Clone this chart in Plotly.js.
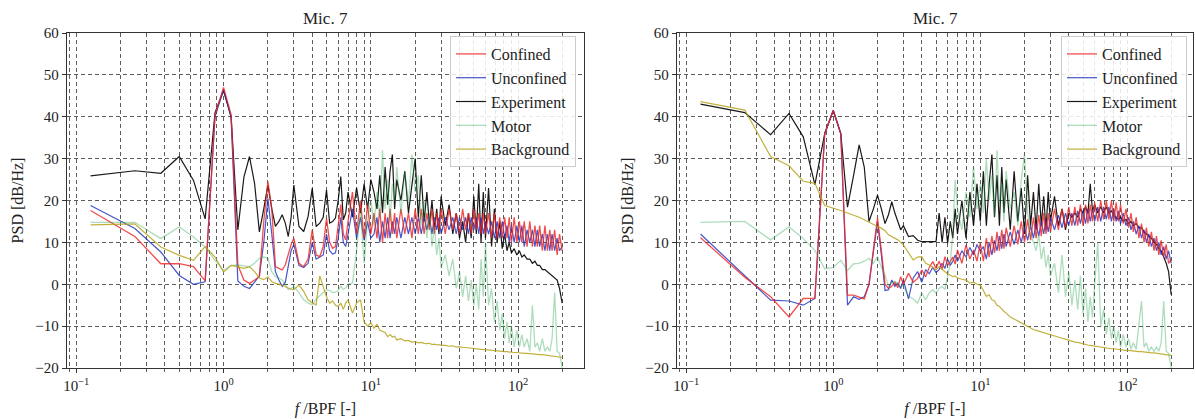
<!DOCTYPE html>
<html><head><meta charset="utf-8">
<script src="https://cdn.plot.ly/plotly-3.0.1.min.js"></script>
<style>html,body{margin:0;padding:0;background:#fff}#chart{width:1196px;height:419px}</style>
</head><body><div id="chart"></div>
<script>
// Frequency (f/BPF), shared by every series
const freq = [
  0.125,0.25,0.375,0.5,0.625,0.75,0.875,1,1.125,1.25,1.375,1.5,1.625,1.75,1.875,2,2.125,2.25,2.375,2.5,2.625,2.75,2.875,3,
  3.25,3.5,3.75,4,4.25,4.5,4.75,5,5.25,5.5,5.75,6,6.25,6.5,6.75,7,7.5,8,8.5,9,9.5,10,
  10.5,11,11.5,12,12.5,13,13.5,14,14.5,15, 16,17,18,19,20,21,22,23,24,25, 26,27,28,29,30,32,34,36,38,40,
  42,44,46,48,50,52,54,56,58,60, 63,66,69,72,75,78,81,84,87,90, 94,98,102,106,110,115,120,125,130,135,
  140,146,152,158,164,170,177,184,191,199
];

// ---- Left panel (Mic. 7) ----
const confinedL = [
  17.6,11.4,4.9,4.9,4.2,0.8,40.5,47,40.5,4.6,1.0,0.2,1.0,1.8,15,24.5,18,4.2,3.8,3.4,4.6,7,9.5,11,
  5.0,4.2,6,13,7,6.6,9,15.8,10,8.6,9,14,19,12,10.6,15,22,12,20,11,19,12,
  17,11,18,10,17,11,18,12,17,11, 18,12,17,11,18,12,18,12,17,13, 18,12,17,13,18,12,18,13,17,12,
  18,13,17,12,18,13,17,12,17,12, 17,11,17,11,16,11,16,11,16,10, 16,10,15,10,15,9,15,9,14,9,
  14,8,14,8,13,8,13,7,12,8
];
const unconfinedL = [
  18.8,13.3,7.7,2.1,0,0.6,40,46.5,40,0.8,-0.5,-1.0,0.5,2.0,10,20.5,12,3,1,-0.5,0.5,4,8,9.5,
  4.5,4.0,5,10,6,6.5,7,12,8,7.2,7.5,11,16,10,9,12,18,11,16,10.5,15,11,
  12,16,10,15,11,16,11,15,12,16, 11,16,12,16,12,16,12,16,13,16, 12,16,13,16,12,16,13,16,12,16,
  13,16,12,16,13,16,12,16,12,15, 12,15,11,15,11,15,11,14,10,14, 10,14,10,14,9,13,10,13,9,13,
  9,12,8,12,8,12,8,11,8,9
];
const experimentL = [
  25.9,27.1,26.5,30.5,24.8,15.6,41,46.2,40,13,25.6,30.5,24,12.5,18,23.7,18,13.8,15,16.6,14.6,11.4,16,23.7,
  13.8,12.6,16.2,22.9,13.8,14.6,16,22.5,14.6,15,15.8,20,25.7,15.4,17,22,16,23,17,24,18,25,
  22,18,26,17,28,19,27,31,18,25, 20,27,17,24,30,16,26,15,22,14, 20,13,18,12,21,14,19,12,17,11,
  15,10,17,11,21,12,24,10,22,11, 23,9,18,10,15,8.5,12,8,10,7.5, 8.5,7,8,6.5,7,6,6,5,5.5,4.5,
  4.5,3.5,3.5,3,2.5,2,1.5,1,-1,-4.5
];
const motorL = [
  14.8,14.8,10.9,13.7,11.3,8.9,5.7,3.3,4.5,4.6,4.4,4.2,5,6.2,6.5,6.2,3,1.8,1.5,1.0,0,-1.3,-1,-0.5,
  -2,-3.7,-4.5,-4.9,-3.5,-2.8,-2,-1.3,-1.5,-2,-1.9,-1.5,-0.5,-1.2,-0.9,0,0.3,8,18,5,15,20,
  14,22,16,32,18,25,15,24,20,28, 17,27,19,31,22,26,14,20,11,17, 9,14,7,11,4,7,2,6,-1,3,
  -3,2,-4,1,-5,0,-6,6,-3,10, -5,-1,-9,-4,-11,-7,-13,-9,-14,-10, -15,-11,-15,-12,-15,-13,-16,-5,-15,-14,
  -16,-13,-16,-15,-16,-13,-2,-16,-16.5,-20
];
const backgroundL = [
  14.2,14.4,8.9,6.9,5.7,9.0,6.5,2.9,4.5,4.2,3.8,4.2,3.0,1.5,1.1,1.8,0.6,0.2,0,-0.2,-0.6,-1.0,-1.2,-1.3,
  -0.2,-1.7,-3.7,-4.5,-4.9,2.0,-0.5,-3,-4.5,-4,-5,-5.3,-4.5,-6,-4.5,-3.7,-6.9,-4.5,-3.7,-9,-10,-9.2,
  -10.5,-9.6,-11,-11.2,-11.5,-12.5,-12,-12.6,-12.4,-13.3, -13,-13.5,-13.4,-13.8,-13.7,-14,-13.9,-14.1,-14.2,-14.1,
  -14.4,-14.3,-14.5,-14.4,-14.6,-14.6,-14.8,-14.7,-15,-14.9, -15.1,-15.1,-15.2,-15.3,-15.3,-15.4,-15.5,-15.5,-15.6,-15.6,
  -15.7,-15.8,-15.8,-15.9,-16,-16,-16.1,-16.1,-16.2,-16.2, -16.3,-16.3,-16.4,-16.4,-16.5,-16.5,-16.6,-16.6,-16.7,-16.7,
  -16.8,-16.8,-16.9,-16.9,-17,-17,-17.1,-17.2,-17.3,-17.5
];

// ---- Right panel (Mic. 7) ----
const confinedR = [
  11.1,1.7,-3.0,-7.8,-3.4,-3.3,36,41.5,36,-2.6,-2.6,-3,-3.5,0,8,15.8,8,0,-1,-0.5,0.5,-0.8,1.8,0,
  2.6,0.5,1.4,3.4,1.8,4,5.4,3.8,5.5,3.5,6.6,4.5,5.4,6.5,4.8,8.2,5,9.4,6,8.2,5.5,9.8,
  5.5,11,6.5,11.5,7.5,12.5,8,13,8.5,13.5, 9,14,9.5,15,10,15.5,10.5,16,11,16.5, 11.5,17,12,17,12.5,18,13,18,13.5,18.5,
  14,18.5,14,19,14,19,14.5,19,15,19.5, 15,20,15.5,20,15.5,20,15,19.5,15,19, 14.5,18,13.5,17,12.5,16,11,14.5,10,13.5,
  9,12.5,8,11.5,7,10.5,6.5,9.5,5,6
];
const unconfinedR = [
  12,2.1,-3.8,-4.0,-5.0,-3.4,36,41.5,36,-5.0,-3.0,-3.6,-3,0,8,15,7,-1.5,-1.3,1,-0.5,0.3,-1,1,
  -3.5,1.5,3,0.5,3.5,2.5,4,2.8,3.5,5,3.8,6,4.5,5.5,7,5.5,8,6.5,8.8,7,9.5,8,
  9,6,10,7,10.5,8,11.5,8.5,12,9, 12.5,9.5,13,10,13.5,10.5,14,11,14.5,11.5, 15,12,15.5,12.5,16,13,16.5,13.5,17,14,
  17,14,17.5,14.5,17.5,14.5,18,15,18,15, 18.5,15,18.5,15.5,18.5,15,18,15,17.5,14.5, 17,14,16,13,15,12,14,11,13,10,
  12,9,11,8,10,7,9,6,8,5
];
const experimentR = [
  43,41,35.7,40.8,35.2,23.8,36,41.5,36,18.4,26,33.3,28,15,18,21.3,18,14.5,16.6,19.7,17,15,13,14,
  11.4,11.6,10.5,10.2,10.2,10.2,10.2,10.2,17,10,16,9.8,15,11,18,12,20,11,22,14,24,15,
  27,14,24,31,16,26,14,28,17,25, 13,27,15,23,12,26,14,22,13,24, 14,21,13,22,15,21,14,18,13,17,
  16,17,16,18,17,18.5,17,24,17.5,19, 17,18.5,17,18.5,17,17.5,16.5,16,15.5,16, 15,15.5,14.5,15,14,14.5,13.5,13.5,12.5,12,
  11.5,11,10,9.5,8.5,8,6.5,5,3,-2.5
];
const motorR = [
  14.8,15,10.6,13.7,10.9,8.1,3.7,4.0,5.7,3.3,4.9,5,5.5,6.2,5,6.6,4,2.2,-0.5,0.3,0.7,0,-0.5,-0.5,
  -2.9,-3.5,-4.5,-2.1,-3.7,-2,-1.3,-2.1,-1,-0.5,-1.3,2,5,12,25,18,13,22,16,28,18,24,
  17,30,20,26,16,32,19,24,15,27, 18,22,14,25,31,17,12,10,8,12, 6,9,4,7,2,5,-2,7,-3,3,
  -5,1,-6,2,-7,-1,-9,-3,-8,0, 10,-10,-6,-12,-8,-13,-10,-14,-11,-15, -12,-15,-13,-15.5,-14,-15.5,-10,-4,-15,-14,
  -16,-15,-16,-15,-16,-14,-4,-16,-16.5,-20
];
const backgroundR = [
  43.6,41.6,30.5,28.3,24.6,24.1,18.8,18.2,17.6,17,16.5,16,15.4,14.8,14.2,13.8,13.4,12.8,11.8,11.4,11,10.6,10,9.4,
  7.5,5.8,6.5,6.6,5,4.6,4,3.4,4.2,3.5,3,2.5,2.2,1.8,2,1.5,1.2,1,0.3,0.5,0,-0.2,
  -1.5,-2.9,-2.5,-3.7,-4,-5,-5.3,-6,-6.5,-6.9, -7.8,-8.3,-8.8,-9.3,-9.7,-10.1,-10.4,-10.8,-11,-11.2,
  -11.4,-11.6,-11.7,-12,-12,-12.3,-12.6,-12.9,-13.1,-13.4, -13.5,-13.8,-13.9,-14.1,-14.2,-14.3,-14.5,-14.6,-14.7,-14.8,
  -14.9,-15,-15.1,-15.2,-15.3,-15.4,-15.4,-15.5,-15.6,-15.6, -15.7,-15.8,-15.8,-15.9,-16,-16,-16.1,-16.1,-16.2,-16.2,
  -16.3,-16.4,-16.4,-16.5,-16.6,-16.6,-16.7,-16.8,-17,-17
];

const seriesNames = ['Confined','Unconfined','Experiment','Motor','Background'];
const panelTitles = ['Mic. 7','Mic. 7'];
const xTitle = '<i>f</i> /BPF [-]';
const yTitle = 'PSD [dB/Hz]';
const majorTicks = [0.1,1,10,100];
const majorTickText = ['10<sup>\u22121</sup>','10<sup>0</sup>','10<sup>1</sup>','10<sup>2</sup>'];
const minorTicks = [0.09,0.2,0.3,0.4,0.5,0.6,0.7,0.8,0.9,2,3,4,5,6,7,8,9,20,30,40,50,60,70,80,90,200];
const yTicks = [-20,-10,0,10,20,30,40,50,60];

// ---- styling ----
const FONT = 'Liberation Serif, Times New Roman, serif';
const style = {
  Confined:   {color:'rgba(238,38,38,0.82)', width:1.3, rank:1},
  Unconfined: {color:'rgba(30,48,190,0.82)', width:1.2, rank:2},
  Experiment: {color:'rgba(0,0,0,0.9)',      width:1.2, rank:3},
  Motor:      {color:'rgba(40,165,75,0.38)', width:1.3, rank:4},
  Background: {color:'rgba(180,160,20,0.82)',width:1.2, rank:5}
};
const drawOrder = ['Experiment','Unconfined','Confined','Motor','Background'];
const panels = [
  {Confined:confinedL, Unconfined:unconfinedL, Experiment:experimentL, Motor:motorL, Background:backgroundL},
  {Confined:confinedR, Unconfined:unconfinedR, Experiment:experimentR, Motor:motorR, Background:backgroundR}
];

const traces = [];
panels.forEach((p, i) => {
  drawOrder.forEach(name => {
    const s = style[name];
    traces.push({
      type:'scatter', mode:'lines', x:freq, y:p[name], name:name,
      xaxis: i ? 'x2':'x', yaxis: i ? 'y2':'y',
      legend: i ? 'legend2':'legend', legendrank:s.rank,
      line:{color:s.color, width:s.width}, hoverinfo:'skip'
    });
  });
});

const W = 1196, H = 419;
const yDom = [(H-368)/H, (H-33)/H];
const xDoms = [[67/W, 584/W], [677/W, 1193/W]];
const gridCol = 'rgba(30,30,30,0.8)';
const tickFont = {family:FONT, size:15, color:'#222'};
function xAxis(dom, anchor){
  return {type:'log', domain:dom, anchor:anchor, range:[Math.log10(0.0865), Math.log10(280)],
    tickmode:'array', tickvals:majorTicks, ticktext:majorTickText,
    ticks:'outside', ticklen:4, tickwidth:1, tickcolor:'#333',
    showgrid:true, gridcolor:gridCol, griddash:'4px,3px', gridwidth:0.9,
    minor:{tickmode:'array', tickvals:minorTicks, ticks:'outside', ticklen:2.5, tickwidth:0.8, tickcolor:'#333',
      showgrid:true, gridcolor:gridCol, griddash:'4px,3px', gridwidth:0.9},
    showline:true, mirror:true, linecolor:'#333', linewidth:1.2, zeroline:false, automargin:false,
    tickfont:tickFont, title:{text:xTitle, font:{family:FONT, size:16, color:'#222'}, standoff:9}};
}
function yAxis(dom, anchor){
  return {domain:dom, anchor:anchor, range:[-20,60], tickmode:'array', tickvals:yTicks,
    ticks:'outside', ticklen:4, tickwidth:1, tickcolor:'#333',
    showgrid:true, gridcolor:gridCol, griddash:'4px,3px', gridwidth:0.9,
    showline:true, mirror:true, linecolor:'#333', linewidth:1.2, zeroline:false, automargin:false,
    tickfont:tickFont, title:{text:yTitle, font:{family:FONT, size:16, color:'#222'}, standoff:7}};
}
const legendBase = {yanchor:'top', xanchor:'right', y:(H-36)/H, bgcolor:'rgba(255,255,255,0.85)',
  bordercolor:'#cccccc', borderwidth:1, font:{family:FONT, size:16, color:'#222'},
  itemwidth:30, tracegroupgap:0, traceorder:'normal'};

const layout = {
  width:W, height:H, margin:{l:0,r:0,t:0,b:0},
  paper_bgcolor:'#fff', plot_bgcolor:'#fff', showlegend:true,
  font:{family:FONT, color:'#222'},
  xaxis:xAxis(xDoms[0],'y'), yaxis:yAxis(yDom,'x'),
  xaxis2:xAxis(xDoms[1],'y2'), yaxis2:yAxis(yDom,'x2'),
  legend:Object.assign({}, legendBase, {x:576/W}),
  legend2:Object.assign({}, legendBase, {x:1187/W}),
  annotations: panelTitles.map((t,i)=>({text:t, xref:'paper', yref:'paper',
    x:(xDoms[i][0]+xDoms[i][1])/2, y:yDom[1], xanchor:'center', yanchor:'bottom', yshift:3,
    showarrow:false, font:{family:FONT, size:17, color:'#222'}}))
};
Plotly.newPlot('chart', traces, layout, {staticPlot:true, displayModeBar:false});
</script>
</body></html>
